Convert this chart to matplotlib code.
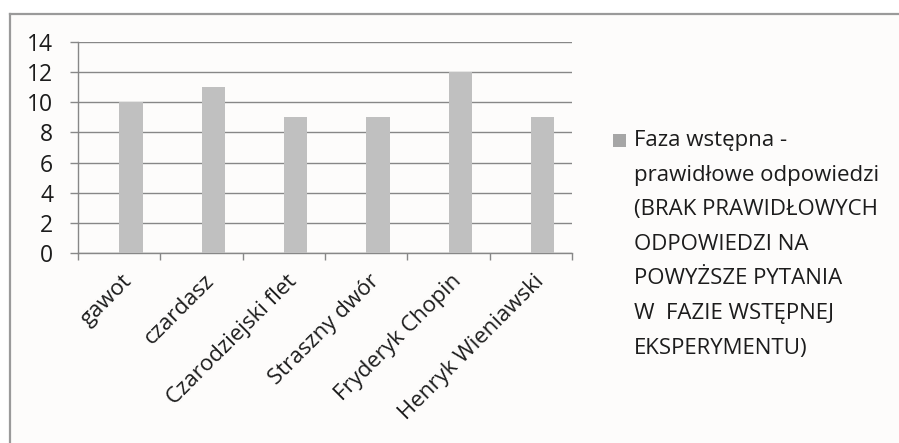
import matplotlib.pyplot as plt
from matplotlib.lines import Line2D
from matplotlib.patches import Rectangle

categories = ['gawot', 'czardasz', 'Czarodziejski flet', 'Straszny dwór',
              'Fryderyk Chopin', 'Henryk Wieniawski']
values = [10, 11, 9, 9, 12, 9]
series_name = ('Faza wstępna -\nprawidłowe odpowiedzi\n(BRAK PRAWIDŁOWYCH\n'
               'ODPOWIEDZI NA\nPOWYŻSZE PYTANIA\nW  FAZIE WSTĘPNEJ\nEKSPERYMENTU)')
yticks = [0, 2, 4, 6, 8, 10, 12, 14]

plt.rcParams['font.family'] = ['Open Sans', 'DejaVu Sans']
grey = '#878787'
bar_col = '#c0c0c0'
txt_col = '#1c1c1c'
W, H = 899, 443

fig = plt.figure(figsize=(W / 100, H / 100), dpi=100)
fig.patch.set_facecolor('white')
# chart area background + frame (only top and left edge fall inside the image)
fig.patches.append(Rectangle((10 / W, 0), 1, 1 - 14 / H, transform=fig.transFigure,
                             facecolor='#fdfcfb', edgecolor='none', zorder=-5))
fig.lines.append(Line2D([10 / W, 1], [1 - 14 / H, 1 - 14 / H],
                        transform=fig.transFigure, color='#9a9a9a', lw=1.6))
fig.lines.append(Line2D([10 / W, 10 / W], [0, 1 - 14 / H],
                        transform=fig.transFigure, color='#9a9a9a', lw=1.6))

ax = fig.add_axes([78 / W, 1 - 253 / H, 494 / W, 211 / H])
ax.set_facecolor('none')
x = range(len(categories))
# second slot of a two-bar cluster, gap width 150%
bw = 1 / 3.5
ax.bar([i + bw / 2 for i in x], values, width=bw, color=bar_col, zorder=3)
ax.set_xlim(-0.5, len(categories) - 0.5)
ax.set_ylim(0, 14)
ax.set_yticks(yticks)
ax.set_yticklabels([str(v) for v in yticks], fontsize=16.5, color=txt_col)
ax.yaxis.grid(True, color=grey, linewidth=1)
ax.set_axisbelow(True)

# category dividers as minor ticks, labels on (invisible) major ticks
ax.set_xticks([i - 0.5 for i in range(len(categories) + 1)], minor=True)
ax.set_xticks([i + 0.12 for i in x])
ax.set_xticklabels(categories, rotation=45, ha='right', va='center',
                   rotation_mode='anchor', fontsize=16, color=txt_col)
ax.tick_params(axis='x', which='major', length=0, pad=18)
ax.tick_params(axis='x', which='minor', length=5.2, color=grey, width=1)
ax.tick_params(axis='y', length=5.8, color=grey, width=1, pad=12)

for side in ['top', 'right']:
    ax.spines[side].set_visible(False)
for side in ['left', 'bottom']:
    ax.spines[side].set_color(grey)
    ax.spines[side].set_linewidth(1)

# legend: marker square next to the first line of the series name
fig.patches.append(Rectangle((613 / W, 1 - 147 / H), 13 / W, 13 / H,
                             transform=fig.transFigure, facecolor='#a6a6a6',
                             edgecolor='none'))
fig.text(634 / W, 1 - 130 / H, series_name, fontsize=16, color=txt_col,
         ha='left', va='top', linespacing=1.85)

fig.savefig('out.png', dpi=100)
